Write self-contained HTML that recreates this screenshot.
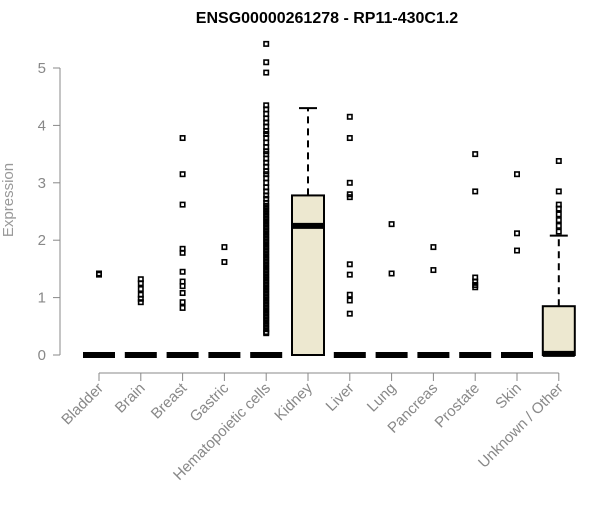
<!DOCTYPE html>
<html><head><meta charset="utf-8"><style>
body{margin:0;background:#fff}
text{font-family:"Liberation Sans",Arial,sans-serif}
</style></head><body>
<svg id="chart" width="600" height="500" xmlns="http://www.w3.org/2000/svg">
<rect width="600" height="500" fill="#fff"/>
<text x="327" y="23" text-anchor="middle" font-size="16" font-weight="bold" fill="#000">ENSG00000261278 - RP11-430C1.2</text>
<text transform="translate(13,200) rotate(-90)" text-anchor="middle" font-size="15" fill="#999">Expression</text>
<g id="axes"></g><g id="marks"></g>
</svg>
<script>
const categories=["Bladder","Brain","Breast","Gastric","Hematopoietic cells","Kidney","Liver","Lung","Pancreas","Prostate","Skin","Unknown / Other"];
const q1=[0,0,0,0,0,0,0,0,0,0,0,0];
const medians=[0,0,0,0,0,2.25,0,0,0,0,0,0.02];
const q3=[0,0,0,0,0,2.78,0,0,0,0,0,0.85];
const whiskerHigh=[0,0,0,0,0,4.3,0,0,0,0,0,2.08];
const outliers=[
[1.42,1.40],
[1.32,1.25,1.15,1.05,0.98,0.92],
[3.78,3.15,2.62,1.85,1.78,1.45,1.28,1.2,1.08,0.92,0.82],
[1.88,1.62],
[5.42,5.1,4.92,4.35,4.28,4.2,4.12,4.05,3.98,3.9,3.85,3.78,3.7,3.62,3.55,3.5,3.42,3.35,3.28,3.2,3.15,3.08,3.0,2.92,2.85,2.78,2.72,2.65,2.6,2.55,2.5,2.45,2.4,2.35,2.3,2.25,2.2,2.15,2.1,2.05,2.0,1.95,1.9,1.85,1.8,1.75,1.7,1.65,1.6,1.55,1.5,1.45,1.4,1.35,1.3,1.25,1.2,1.15,1.1,1.05,1.0,0.95,0.9,0.85,0.8,0.75,0.7,0.65,0.6,0.55,0.5,0.45,0.4,0.38],
[],
[4.15,3.78,3.0,2.8,2.75,1.58,1.4,1.05,0.95,0.72],
[2.28,1.42],
[1.88,1.48],
[3.5,2.85,1.35,1.28,1.22,1.18],
[3.15,2.12,1.82],
[3.38,2.85,2.62,2.55,2.45,2.35,2.25,2.15]
];
const yTicks=[0,1,2,3,4,5];
const NS="http://www.w3.org/2000/svg";
const y=v=>355-v*57.4;
const x=i=>99+i*41.8;
function mk(tag,attrs,parent){const e=document.createElementNS(NS,tag);for(const k in attrs)e.setAttribute(k,attrs[k]);parent.appendChild(e);return e;}
const axes=document.getElementById('axes'),marks=document.getElementById('marks');
let yl=mk('line',{x1:60,x2:60,y1:y(5),y2:y(0),stroke:'#888'},axes);

yTicks.forEach(t=>{
 const tk=mk('line',{x1:53,x2:60,y1:y(t),y2:y(t),stroke:'#888'},axes);
 
 const tl=mk('text',{x:46,y:y(t)+5,'text-anchor':'end','font-size':15,fill:'#888'},axes);
 tl.textContent=t;
 
});
let xl=mk('line',{x1:x(0),x2:x(11),y1:373,y2:373,stroke:'#888'},axes);

categories.forEach((c,i)=>{
 const tk=mk('line',{x1:x(i),x2:x(i),y1:373,y2:381,stroke:'#888'},axes);
 
 const tl=mk('text',{transform:`translate(${x(i)+5},${389}) rotate(-45)`,'text-anchor':'end','font-size':15,fill:'#888'},axes);
 tl.textContent=c;
 
 const g=mk('g',{},marks);
 
 
 const cx=x(i),hw=16;
 if(whiskerHigh[i]>q3[i]){
  mk('line',{x1:cx,x2:cx,y1:y(q3[i]),y2:y(whiskerHigh[i]),stroke:'#000','stroke-width':2,'stroke-dasharray':'7,5'},g);
  mk('line',{x1:cx-9,x2:cx+9,y1:y(whiskerHigh[i]),y2:y(whiskerHigh[i]),stroke:'#000','stroke-width':2},g);
 }
 if(q3[i]>q1[i]) mk('rect',{x:cx-hw,y:y(q3[i]),width:hw*2,height:y(q1[i])-y(q3[i]),fill:'#EDE8D0',stroke:'#000','stroke-width':2},g);
 mk('line',{x1:cx-hw,x2:cx+hw,y1:y(medians[i]),y2:y(medians[i]),stroke:'#000','stroke-width':6},g);
 outliers[i].forEach(v=>{
  const p=mk('rect',{x:cx-2.2,y:y(v)-2.2,width:4.4,height:4.4,fill:'none',stroke:'#000','stroke-width':1.6},g);
  
 });
});
</script>
</body></html>
